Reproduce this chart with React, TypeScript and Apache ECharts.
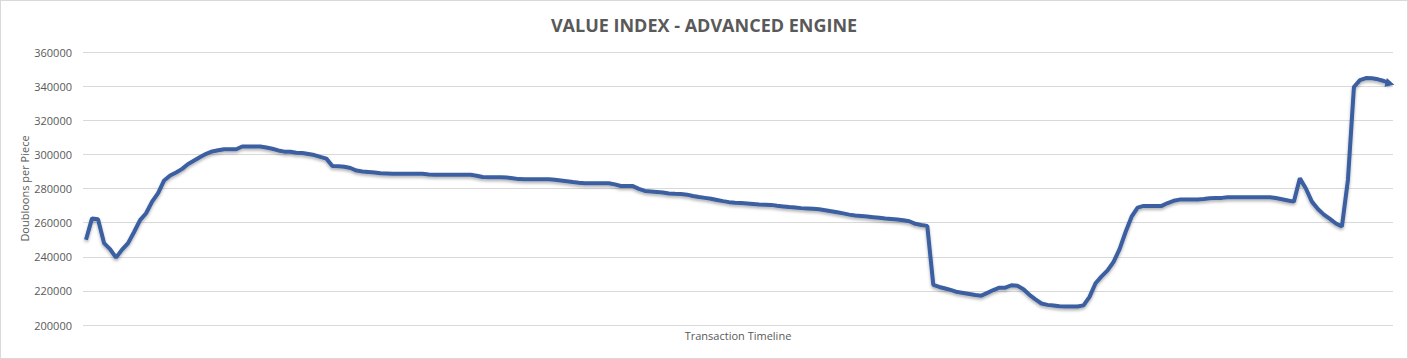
import React, { useEffect, useRef } from "react";
import * as echarts from "echarts";

const TITLE = "VALUE INDEX - ADVANCED ENGINE";
const Y_NAME = "Doubloons per Piece";
const X_NAME = "Transaction Timeline";
const Y_MIN = 200000;
const Y_MAX = 360000;
const Y_STEP = 20000;

const values: number[] = [
  250000, 262500, 262000, 248000, 244500, 239500, 244200, 248000, 254500, 261500,
  265500, 272300, 277300, 284700, 287600, 289400, 291500, 294400, 296400, 298400,
  300300, 301700, 302400, 303000, 303000, 303000, 304600, 304600, 304600, 304600,
  304000, 303300, 302300, 301600, 301500, 301000, 300800, 300200, 299600, 298500,
  297500, 293200, 293000, 292700, 292000, 290500, 290000, 289700, 289400, 289000,
  288800, 288600, 288600, 288600, 288600, 288600, 288600, 288200, 288000, 288000,
  288000, 288000, 288000, 288000, 288000, 287500, 286700, 286600, 286600, 286600,
  286400, 286000, 285500, 285400, 285400, 285400, 285400, 285400, 285100, 284700,
  284300, 283800, 283400, 283100, 283100, 283100, 283100, 283100, 282400, 281500,
  281500, 281400, 279800, 278600, 278300, 278000, 277600, 277100, 276900, 276800,
  276400, 275600, 275000, 274500, 274000, 273300, 272600, 272000, 271700, 271500,
  271200, 270900, 270600, 270500, 270400, 269900, 269500, 269100, 268800, 268500,
  268300, 268100, 267800, 267300, 266700, 266100, 265400, 264700, 264200, 263900,
  263600, 263200, 262800, 262400, 262100, 261800, 261400, 260800, 259300, 258600,
  258100, 223500, 222300, 221400, 220400, 219300, 218800, 218200, 217600, 217200,
  218800, 220500, 221900, 221900, 223300, 223000, 221000, 217700, 215000, 212600,
  211800, 211400, 211000, 210800, 210800, 210800, 211500, 216500, 224500, 228500,
  232000, 237000, 244500, 254500, 263500, 268800, 269800, 269800, 269800, 269800,
  271500, 272800, 273500, 273600, 273600, 273600, 273800, 274300, 274400, 274500,
  274900, 274900, 274900, 274900, 274900, 274900, 274900, 274900, 274400, 273700,
  273000, 272300, 286000, 280000, 272300, 268000, 264700, 262200, 259500, 257700,
  285000, 339500, 343500, 344700, 344600, 344000, 343000, 341500,
];

const categories: string[] = values.map((_, i) => String(i + 1));

export default function App() {
  const ref = useRef<HTMLDivElement>(null);

  useEffect(() => {
    document.body.style.margin = "0";
    if (!ref.current) return;
    const chart = echarts.init(ref.current, undefined, { renderer: "svg" });
    const lastIdx = values.length - 1;
    chart.setOption({
      animation: false,
      backgroundColor: "#ffffff",
      title: {
        text: TITLE,
        left: "center",
        top: 10,
        textStyle: {
          fontFamily: "Open Sans",
          fontSize: 18,
          fontWeight: "bold",
          color: "#595959",
        },
      },
      grid: { left: 82, right: 14, top: 51, bottom: 33, containLabel: false },
      xAxis: {
        type: "category",
        data: categories,
        boundaryGap: true,
        name: X_NAME,
        nameLocation: "middle",
        nameGap: 5,
        nameMoveOverlap: false,
        nameTextStyle: { fontFamily: "Open Sans", fontSize: 11, color: "#595959" },
        axisLine: { show: false },
        axisTick: { show: false },
        axisLabel: { show: false },
        splitLine: { show: false },
      },
      yAxis: {
        type: "value",
        min: Y_MIN,
        max: Y_MAX,
        interval: Y_STEP,
        name: Y_NAME,
        nameLocation: "middle",
        nameGap: 53,
        nameMoveOverlap: false,
        nameTextStyle: { fontFamily: "Open Sans", fontSize: 11, color: "#595959" },
        axisLine: { show: false },
        axisTick: { show: false },
        axisLabel: {
          fontFamily: "Open Sans",
          fontSize: 11,
          color: "#595959",
          margin: 11,
          formatter: (v: number) => String(v),
        },
        splitLine: { lineStyle: { color: "#d9d9d9", width: 1 } },
      },
      series: [
        {
          type: "line",
          data: values,
          showSymbol: false,
          lineStyle: {
            color: "#3a5fa0",
            width: 4,
            shadowColor: "rgba(0,0,0,0.3)",
            shadowBlur: 3,
            shadowOffsetY: 2,
          },
          itemStyle: { color: "#3a5fa0" },
          markPoint: {
            silent: true,
            label: { show: false },
            data: [
              {
                coord: [lastIdx, values[lastIdx]],
                symbol: "triangle",
                symbolSize: [9, 9],
                symbolRotate: -105,
                symbolOffset: [0, 0],
                itemStyle: { color: "#3a5fa0" },
              },
            ],
          },
        },
      ],
    });
    return () => chart.dispose();
  }, []);

  return (
    <div
      style={{
        width: 1408,
        height: 359,
        boxSizing: "border-box",
        border: "1px solid #d9d9d9",
        position: "relative",
      }}
    >
      <div ref={ref} style={{ width: 1406, height: 357 }} />
    </div>
  );
}
